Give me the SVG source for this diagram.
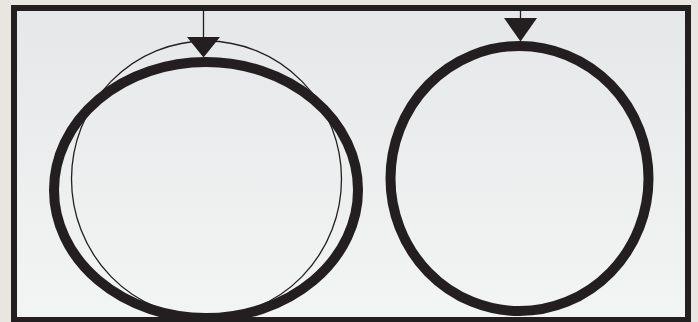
<svg xmlns="http://www.w3.org/2000/svg" width="698" height="322" viewBox="0 0 698 322">
<defs>
<linearGradient id="bg" x1="0" y1="0" x2="0" y2="1">
<stop offset="0" stop-color="#e6e7e8"/>
<stop offset="1" stop-color="#f3f5f5"/>
</linearGradient>
<style>
.thick{fill:none;stroke:#231f20;stroke-width:10}
.thin{fill:none;stroke:#231f20;stroke-width:1.3}
.line{stroke:#231f20;stroke-width:1.3;fill:none}
.head{fill:#231f20}
.frame{fill:none;stroke:#231f20;stroke-width:6}
</style>
</defs>
<rect x="0" y="0" width="698" height="322" fill="#e9e6e1"/>
<rect x="14" y="8" width="674" height="312" fill="url(#bg)"/>
<g id="left-node">
<ellipse class="thin" cx="206.5" cy="179" rx="135" ry="138"/>
<ellipse class="thick" cx="206" cy="190" rx="152" ry="128"/>
</g>
<g id="right-node">
<ellipse class="thick" cx="519.5" cy="178.5" rx="129" ry="132.5"/>
</g>
<g id="connectors">
<line class="line" x1="203.5" y1="10" x2="203.5" y2="40"/>
<polygon class="head" points="187,37 220,37 203.5,57.5"/>
<line class="line" x1="520.5" y1="10" x2="520.5" y2="20"/>
<polygon class="head" points="504,18 537,18 520.5,41.5"/>
</g>
<rect class="frame" x="14" y="8" width="674" height="312"/>
</svg>
